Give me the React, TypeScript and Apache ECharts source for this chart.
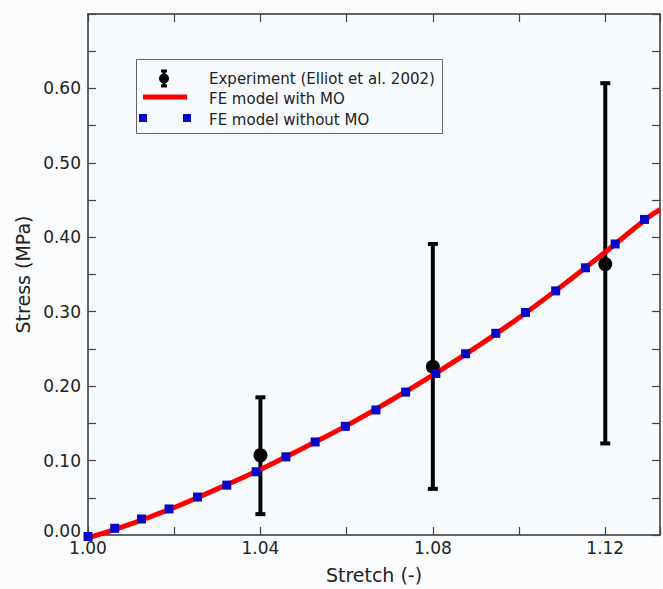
import React, { useEffect, useRef } from "react";
import * as echarts from "echarts";

// Experiment (Elliot et al. 2002): stretch, mean, lower, upper
const expStretch = [1.04, 1.08, 1.12];
const expMean = [0.107, 0.226, 0.364];
const expLow = [0.028, 0.062, 0.123];
const expHigh = [0.185, 0.391, 0.607];

// FE model with MO (continuous line)
const withMoX = [1.0, 1.01, 1.02, 1.03, 1.04, 1.05, 1.06, 1.07, 1.08, 1.09, 1.1, 1.11, 1.12, 1.13, 1.1327];
const withMoY = [-0.004, 0.015, 0.037, 0.062, 0.088, 0.117, 0.147, 0.18, 0.215, 0.252, 0.292, 0.335, 0.38, 0.427, 0.437];

// FE model without MO (square markers)
const noMoX = [1.0, 1.0062, 1.0124, 1.0188, 1.0254, 1.0322, 1.039, 1.0459, 1.0527, 1.0597, 1.0668, 1.0737, 1.0807, 1.0876, 1.0946, 1.1015, 1.1085, 1.1154, 1.1223, 1.1291];
const noMoY = [-0.002, 0.009, 0.0215, 0.035, 0.051, 0.067, 0.085, 0.105, 0.125, 0.146, 0.168, 0.192, 0.217, 0.2435, 0.271, 0.299, 0.328, 0.359, 0.391, 0.424];

const legendLabels = ["Experiment (Elliot et al. 2002)", "FE model with MO", "FE model without MO"];
const xName = "Stretch (-)";
const yName = "Stress (MPa)";

const FONT = "DejaVu Sans";

export default function App() {
  const ref = useRef<HTMLDivElement>(null);
  useEffect(() => {
    document.body.style.margin = "0";
    const chart = echarts.init(ref.current!, null, { renderer: "svg" });
    const axisLine = { show: true, onZero: false, lineStyle: { color: "#333", width: 1.5 } };
    const tick = { show: true, inside: true, length: 8, lineStyle: { color: "#444", width: 1.2 } };
    const xMin = 1.0, xMax = 1.1327, yMin = 0, yMax = 0.7;
    const option: any = {
      animation: false,
      backgroundColor: "#fafcfe",
      grid: { left: 88, top: 14, width: 576, height: 528, show: true, backgroundColor: "#f7fbfe", borderWidth: 0 },
      xAxis: [
        {
          type: "value", min: xMin, max: xMax, interval: 0.02, position: "bottom",
          axisLine, axisTick: tick, splitLine: { show: false },
          axisLabel: {
            fontSize: 17, color: "#222", fontFamily: FONT, margin: 4,
            formatter: (v: number) => {
              const k = Math.round((v - 1) * 100);
              return Math.abs((v - 1) * 100 - k) < 1e-6 && k % 4 === 0 ? v.toFixed(2) : "";
            },
          },
          name: xName, nameLocation: "middle", nameGap: 30,
          nameTextStyle: { fontSize: 19, color: "#222", fontFamily: FONT },
        },
        {
          type: "value", min: xMin, max: xMax, interval: 0.02, position: "top",
          axisLine, axisTick: tick, axisLabel: { show: false }, splitLine: { show: false },
        },
      ],
      yAxis: [
        {
          type: "value", min: yMin, max: yMax, interval: 0.05, position: "left",
          axisLine, axisTick: tick, splitLine: { show: false },
          axisLabel: {
            fontSize: 17, color: "#222", fontFamily: FONT, margin: 7,
            formatter: (v: number) => {
              const k = Math.round(v * 100);
              if (k === 0) return "{z|0.00}";
              return k % 10 === 0 && v < 0.65 ? v.toFixed(2) : "";
            },
            rich: { z: { fontSize: 17, color: "#222", fontFamily: FONT, padding: [0, 0, 8, 0] } },
          },
          name: yName, nameLocation: "middle", nameGap: 49,
          nameTextStyle: { fontSize: 19, color: "#222", fontFamily: FONT },
        },
        {
          type: "value", min: yMin, max: yMax, interval: 0.05, position: "right",
          axisLine, axisTick: tick, axisLabel: { show: false }, splitLine: { show: false },
        },
      ],
      series: [
        {
          type: "custom",
          name: legendLabels[0] + " bars",
          z: 2,
          clip: false,
          encode: { x: 0, y: [1, 2] },
          data: expStretch.map((x, i) => [x, expLow[i], expHigh[i]]),
          renderItem: (params: any, api: any) => {
            const x = api.value(0);
            const top = api.coord([x, api.value(2)]);
            const bot = api.coord([x, api.value(1)]);
            const cw = 5;
            const st = { stroke: "#000", lineWidth: 4 };
            return {
              type: "group",
              children: [
                { type: "line", shape: { x1: top[0], y1: top[1], x2: bot[0], y2: bot[1] }, style: st },
                { type: "line", shape: { x1: top[0] - cw, y1: top[1], x2: top[0] + cw, y2: top[1] }, style: st },
                { type: "line", shape: { x1: bot[0] - cw, y1: bot[1], x2: bot[0] + cw, y2: bot[1] }, style: st },
              ],
            };
          },
        },
        {
          type: "scatter",
          name: legendLabels[0],
          z: 3,
          clip: false,
          symbol: "circle",
          symbolSize: 14,
          itemStyle: { color: "#000", opacity: 1 },
          data: expStretch.map((x, i) => [x, expMean[i]]),
        },
        {
          type: "line",
          name: legendLabels[1],
          z: 4,
          clip: false,
          smooth: true,
          showSymbol: false,
          lineStyle: { color: "#ff0000", width: 5 },
          data: withMoX.map((x, i) => [x, withMoY[i]]),
        },
        {
          type: "scatter",
          name: legendLabels[2],
          z: 5,
          clip: false,
          symbol: "rect",
          symbolSize: 9,
          itemStyle: { color: "#0505c8", opacity: 1 },
          data: noMoX.map((x, i) => [x, noMoY[i]]),
        },
      ],
      graphic: [
        {
          type: "group",
          z: 100,
          children: [
            { type: "rect", shape: { x: 136.5, y: 59.5, width: 306, height: 74 }, style: { fill: "#f7fbfe", stroke: "#666", lineWidth: 1 } },
            // experiment icon
            { type: "line", shape: { x1: 164, y1: 71, x2: 164, y2: 86 }, style: { stroke: "#000", lineWidth: 3 } },
            { type: "line", shape: { x1: 161, y1: 71, x2: 167, y2: 71 }, style: { stroke: "#000", lineWidth: 3 } },
            { type: "line", shape: { x1: 161, y1: 86, x2: 167, y2: 86 }, style: { stroke: "#000", lineWidth: 3 } },
            { type: "circle", shape: { cx: 164, cy: 78.5, r: 5 }, style: { fill: "#000" } },
            // red line icon
            { type: "line", shape: { x1: 143, y1: 97, x2: 187, y2: 97 }, style: { stroke: "#ff0000", lineWidth: 5 } },
            // blue squares icon
            { type: "rect", shape: { x: 139, y: 114, width: 8, height: 8 }, style: { fill: "#0505c8" } },
            { type: "rect", shape: { x: 183, y: 114, width: 8, height: 8 }, style: { fill: "#0505c8" } },
            ...legendLabels.map((t, i) => ({
              type: "text",
              x: 209,
              y: [78.5, 98.5, 120][i],
              style: { text: t, fontSize: 15, fontFamily: FONT, fill: "#222", verticalAlign: "middle", align: "left" },
            })),
          ],
        },
      ],
    };
    chart.setOption(option);
    return () => chart.dispose();
  }, []);
  return <div ref={ref} style={{ width: 663, height: 589 }} />;
}
